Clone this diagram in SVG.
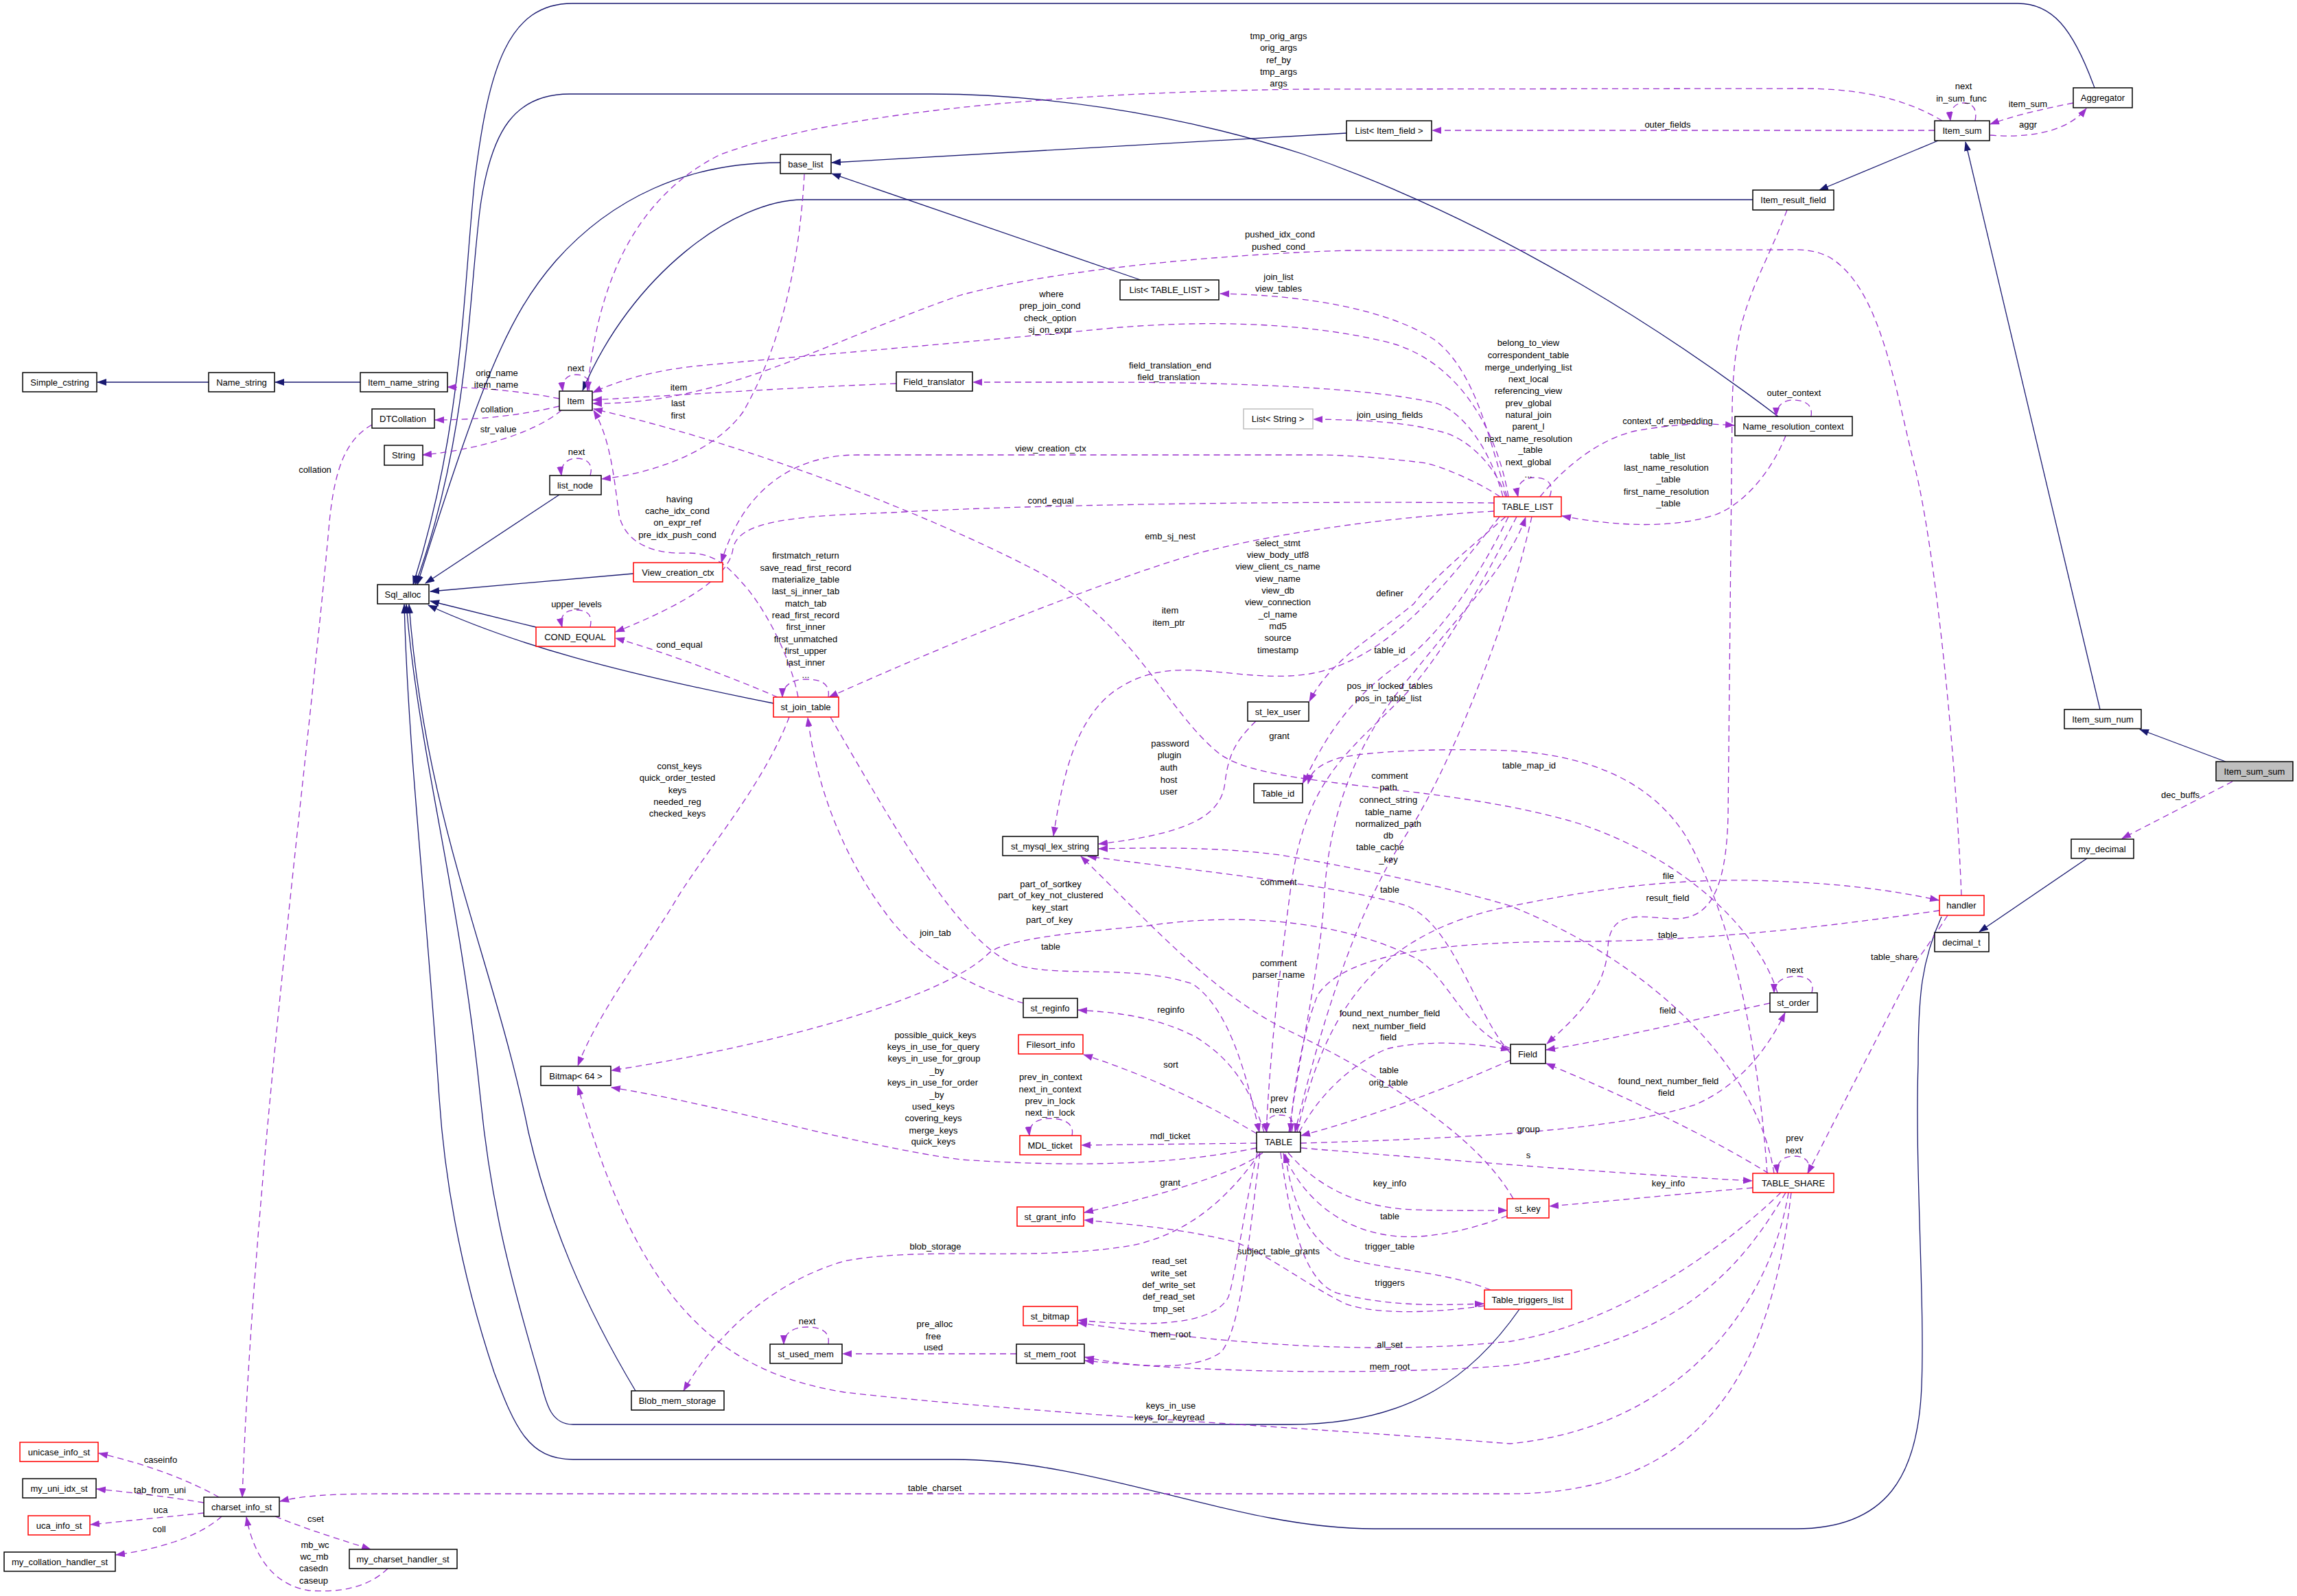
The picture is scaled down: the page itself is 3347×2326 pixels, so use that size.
<svg xmlns="http://www.w3.org/2000/svg" width="3347" height="2326" viewBox="0 0 3347 2326">
<defs>
<marker id="ab" viewBox="0 0 14 10" refX="13" refY="5" markerWidth="14" markerHeight="10" orient="auto" markerUnits="userSpaceOnUse"><path d="M0,0 L14,5 L0,10 z" fill="#191970"/></marker>
<marker id="ap" viewBox="0 0 14 10" refX="13" refY="5" markerWidth="14" markerHeight="10" orient="auto" markerUnits="userSpaceOnUse"><path d="M0,0 L14,5 L0,10 z" fill="#9a32cd"/></marker>
</defs>
<style>
text{font-family:"Liberation Sans",Arial,sans-serif;font-size:13px;fill:#000;text-anchor:middle}
.n rect{fill:#fff;stroke:#000;stroke-width:1.5}
.r rect{stroke:#f00}
.g rect{stroke:#bfbfbf}
.s rect{fill:#bfbfbf}
.i{fill:none;stroke:#191970;stroke-width:1.3;marker-end:url(#ab)}
.u{fill:none;stroke:#9a32cd;stroke-width:1.3;stroke-dasharray:9,6;marker-end:url(#ap)}
</style>
<rect width="3347" height="2326" fill="#fff"/>
<g id="edges">
<!-- inheritance -->
<path class="i" d="M3243,1110 L3118,1063"/>
<path class="i" d="M3060,1034 L2864,207"/>
<path class="i" d="M2824,205 L2651,277"/>
<path class="i" d="M2554,291 L1170,291 C1070,291 920,400 849,569"/>
<path class="i" d="M3052,128 C3020,40 2990,5 2940,5 L834,5 C740,5 712,100 692,260 C675,420 675,620 602,852"/>
<path class="i" d="M2591,607 C2450,500 2200,330 1900,225 C1700,160 1500,137 1357,137 L830,137 C750,137 716,190 700,300 C683,430 683,640 605,852"/>
<path class="i" d="M1137,237 C1000,237 890,290 810,380 C740,460 700,560 608,852"/>
<path class="i" d="M815,721 L620,850"/>
<path class="i" d="M923,836 L627,862"/>
<path class="i" d="M781,914 L627,876"/>
<path class="i" d="M1127,1025 C900,980 750,940 624,882"/>
<path class="i" d="M926,2027 C850,1900 800,1780 770,1650 C720,1400 620,1200 596,881"/>
<path class="i" d="M2214,1908 C2150,2000 2060,2076 1880,2076 L835,2076 C800,2076 795,2040 786,2007 C740,1850 715,1750 700,1600 C670,1300 610,1100 592,881"/>
<path class="i" d="M2829,1336 C2800,1400 2795,1450 2795,1550 C2790,1700 2805,1900 2800,2020 C2795,2150 2750,2228 2617,2228 L2002,2228 C1800,2228 1600,2127 1390,2127 L835,2127 C770,2127 750,2080 720,2000 C680,1880 650,1750 640,1600 C620,1300 595,1100 589,881"/>
<path class="i" d="M525,557 L401,557"/>
<path class="i" d="M304,557 L142,557"/>
<path class="i" d="M1962,194 L1212,237"/>
<path class="i" d="M1662,408 L1212,253"/>
<path class="i" d="M3041,1251 L2884,1358"/>
<!-- usage -->
<path class="u" d="M3253,1139 L3092,1222"/>
<path class="u" d="M2878,176 C2882,156 2872,150 2861,150 C2850,150 2840,158 2842,176"/>
<path class="u" d="M2900,197 C2950,201 3010,195 3040,158"/>
<path class="u" d="M3021,150 C2970,160 2930,170 2900,181"/>
<path class="u" d="M2819,190 L2087,190"/>
<path class="u" d="M2830,176 C2770,140 2700,129 2624,129 L1900,130 C1500,135 1200,170 1050,225 C920,290 870,420 856,569"/>
<path class="u" d="M2858,1305 C2850,1100 2820,800 2790,680 C2760,560 2740,420 2666,375 C2640,362 2620,364 2600,364 L1963,365 C1800,370 1550,390 1400,430 C1200,500 1050,590 864,588"/>
<path class="u" d="M2196,724 C2170,640 2150,540 2090,495 C2020,450 1900,430 1778,428"/>
<path class="u" d="M2190,724 C2170,650 2130,600 2094,588 C2000,565 1800,557 1600,557 L1418,557"/>
<path class="u" d="M2194,724 C2180,680 2140,640 2103,630 C2050,615 1990,612 1914,611"/>
<path class="u" d="M2186,724 C2150,700 2100,680 2078,675 C2000,665 1950,663 1912,663 L1249,663 C1150,663 1080,720 1051,820"/>
<path class="u" d="M2177,733 C1900,730 1500,735 1300,747 C1150,752 1075,760 1068,800 C1063,840 1000,880 897,921"/>
<path class="u" d="M2177,745 C2000,755 1850,780 1746,806 C1600,850 1400,930 1208,1016"/>
<path class="u" d="M2258,724 C2266,703 2252,696 2236,696 C2220,696 2208,706 2212,724"/>
<path class="u" d="M2244,724 C2280,680 2330,640 2383,628 C2440,618 2480,616 2527,620"/>
<path class="u" d="M2602,635 C2580,690 2540,735 2500,750 C2440,770 2360,768 2276,752"/>
<path class="u" d="M2639,607 C2642,590 2630,583 2613,583 C2598,583 2588,592 2588,607"/>
<path class="u" d="M2604,306 C2560,420 2525,450 2524,600 L2518,1190 C2515,1300 2490,1339 2441,1339 C2400,1339 2346,1320 2343,1380 C2340,1440 2300,1480 2254,1521"/>
<path class="u" d="M1890,1650 C1930,1480 2000,1360 2200,1321 C2350,1290 2450,1282 2550,1283 C2680,1286 2760,1298 2825,1312"/>
<path class="u" d="M2826,1327 C2700,1345 2500,1372 2300,1372 C2100,1372 1960,1390 1920,1450 C1900,1500 1885,1580 1880,1650"/>
<path class="u" d="M2838,1334 C2815,1370 2800,1390 2793,1400 L2634,1710"/>
<path class="u" d="M1893,1650 C1930,1580 1990,1540 2023,1528 C2080,1515 2150,1520 2200,1530"/>
<path class="u" d="M2201,1545 C2100,1590 1990,1630 1896,1655"/>
<path class="u" d="M2579,1462 C2450,1490 2350,1515 2253,1530"/>
<path class="u" d="M2577,1710 C2480,1650 2350,1590 2253,1550"/>
<path class="u" d="M1895,1666 C2100,1660 2350,1650 2470,1610 C2540,1580 2580,1520 2601,1476"/>
<path class="u" d="M1896,1673 C2100,1690 2350,1710 2553,1721"/>
<path class="u" d="M2554,1731 C2450,1740 2350,1750 2258,1758"/>
<path class="u" d="M1877,1680 C1920,1730 1980,1760 2060,1763 C2120,1765 2160,1764 2196,1764"/>
<path class="u" d="M2196,1772 C2150,1790 2090,1805 2040,1802 C1960,1797 1900,1750 1870,1681"/>
<path class="u" d="M2634,1710 C2640,1690 2628,1685 2613,1685 C2598,1685 2588,1694 2590,1710"/>
<path class="u" d="M1882,1650 C1888,1630 1878,1625 1864,1625 C1850,1625 1842,1634 1846,1650"/>
<path class="u" d="M2172,1880 C2100,1850 2000,1850 1950,1830 C1900,1800 1880,1740 1873,1682"/>
<path class="u" d="M1866,1680 C1880,1780 1900,1870 1950,1885 C2030,1905 2100,1902 2162,1900"/>
<path class="u" d="M2163,1903 C2080,1915 2000,1915 1960,1900 C1900,1870 1850,1830 1800,1810 C1720,1790 1650,1785 1580,1778"/>
<path class="u" d="M1840,1680 C1800,1710 1700,1740 1580,1767"/>
<path class="u" d="M1832,1680 C1815,1750 1800,1860 1790,1890 C1770,1930 1680,1935 1571,1924"/>
<path class="u" d="M2595,1738 C2500,1830 2350,1930 2200,1955 C2000,1975 1800,1960 1571,1928"/>
<path class="u" d="M1836,1680 C1820,1800 1810,1930 1780,1970 C1740,2000 1650,1992 1581,1978"/>
<path class="u" d="M2602,1738 C2530,1860 2440,1954 2200,1990 C2000,2005 1750,2000 1581,1983"/>
<path class="u" d="M1481,1973 L1228,1973"/>
<path class="u" d="M1207,1959 C1210,1940 1195,1934 1176,1934 C1157,1934 1142,1942 1142,1959"/>
<path class="u" d="M1836,1680 C1780,1760 1720,1800 1650,1815 C1500,1840 1350,1815 1230,1838 C1120,1870 1040,1950 996,2027"/>
<path class="u" d="M2606,1738 C2580,1900 2450,2080 2200,2104 C1900,2080 1500,2060 1230,2029 C1050,2000 930,1900 842,1583"/>
<path class="u" d="M2610,1738 C2580,2000 2480,2177 2200,2177 L560,2177 C480,2177 440,2180 408,2188"/>
<path class="u" d="M319,2182 C280,2160 220,2135 144,2118"/>
<path class="u" d="M297,2190 C250,2182 190,2175 141,2170"/>
<path class="u" d="M297,2205 C250,2210 190,2216 132,2222"/>
<path class="u" d="M323,2210 C290,2240 230,2258 169,2266"/>
<path class="u" d="M401,2210 C450,2230 500,2245 540,2258"/>
<path class="u" d="M565,2286 C530,2320 480,2320 450,2318 C400,2310 370,2270 359,2211"/>
<path class="u" d="M1831,1666 L1576,1669"/>
<path class="u" d="M1562,1655 C1566,1636 1548,1630 1530,1630 C1512,1630 1498,1638 1500,1655"/>
<path class="u" d="M1831,1652 C1760,1610 1680,1570 1579,1537"/>
<path class="u" d="M1842,1650 C1820,1580 1790,1540 1740,1510 C1680,1480 1620,1475 1571,1472"/>
<path class="u" d="M1491,1462 C1420,1440 1340,1400 1290,1330 C1230,1250 1190,1150 1177,1046"/>
<path class="u" d="M1831,1673 C1700,1700 1550,1700 1400,1690 C1250,1670 1050,1610 891,1585"/>
<path class="u" d="M2201,1528 C2130,1500 2110,1420 2060,1395 C1950,1340 1800,1330 1674,1349 C1550,1360 1460,1370 1440,1390 C1380,1450 1150,1520 891,1560"/>
<path class="u" d="M1830,1051 C1800,1080 1790,1100 1785,1140 C1780,1190 1730,1215 1601,1230"/>
<path class="u" d="M2185,753 C2100,860 2010,980 1880,985 C1780,990 1700,950 1620,1010 C1570,1050 1550,1120 1535,1218"/>
<path class="u" d="M2194,753 C2140,800 2090,840 2060,880 C2000,930 1940,960 1908,1022"/>
<path class="u" d="M2198,753 C2150,850 2100,920 2050,960 C1960,1020 1930,1080 1898,1142"/>
<path class="u" d="M2575,1710 C2560,1500 2520,1330 2456,1218 C2400,1130 2300,1100 2200,1094 C2100,1090 1990,1095 1950,1105 C1920,1115 1910,1125 1906,1142"/>
<path class="u" d="M1878,1650 C1900,1500 1925,1400 1930,1300 C1940,1150 2000,1050 2060,980 C2140,880 2200,820 2223,754"/>
<path class="u" d="M2232,753 C2200,900 2120,1100 2060,1200 C1990,1300 1935,1450 1887,1650"/>
<path class="u" d="M2210,753 C2160,850 2100,960 2040,1020 C1960,1100 1900,1140 1880,1300 C1860,1450 1850,1550 1845,1650"/>
<path class="u" d="M2585,1710 C2560,1550 2400,1400 2200,1320 C2100,1290 1950,1260 1865,1246 C1780,1235 1700,1235 1601,1237"/>
<path class="u" d="M2201,1535 C2150,1480 2120,1350 2050,1320 C1950,1290 1750,1270 1585,1248"/>
<path class="u" d="M2205,1747 C2150,1650 2000,1560 1865,1496 C1760,1440 1680,1350 1575,1248"/>
<path class="u" d="M1210,1045 C1300,1200 1400,1380 1483,1407 C1550,1425 1650,1405 1738,1434 C1790,1470 1815,1560 1835,1650"/>
<path class="u" d="M1150,1045 C1110,1150 1020,1250 980,1320 C930,1400 870,1480 842,1553"/>
<path class="u" d="M1133,1016 C1050,980 950,945 897,930"/>
<path class="u" d="M1207,1016 C1210,995 1195,990 1174,990 C1153,990 1140,1000 1140,1016"/>
<path class="u" d="M1163,1016 C1150,950 1110,880 1082,850 C1060,825 1040,805 1000,806 C950,808 910,790 902,750 C895,700 890,640 865,598"/>
<path class="u" d="M2590,1447 C2560,1350 2450,1250 2300,1200 C2100,1140 1850,1150 1779,1100 C1700,1040 1650,900 1497,825 C1350,750 1100,650 865,596"/>
<path class="u" d="M1306,559 C1150,565 1000,575 864,583"/>
<path class="u" d="M2198,724 C2180,620 2120,520 2015,497 C1900,470 1750,465 1600,480 C1400,500 1100,525 1019,533 C950,540 900,555 864,572"/>
<path class="u" d="M1172,254 C1165,380 1140,500 1083,600 C1040,660 950,690 877,698"/>
<path class="u" d="M858,570 C862,552 852,546 839,546 C826,546 818,555 820,570"/>
<path class="u" d="M860,693 C865,676 855,668 840,668 C826,668 816,678 818,693"/>
<path class="u" d="M860,914 C864,895 855,889 839,889 C823,889 815,898 819,914"/>
<path class="u" d="M2640,1447 C2645,1428 2632,1423 2617,1423 C2600,1423 2585,1430 2585,1447"/>
<path class="u" d="M815,581 C760,570 700,565 652,564"/>
<path class="u" d="M815,592 C760,605 700,612 634,612"/>
<path class="u" d="M818,598 C780,630 700,655 616,663"/>
<path class="u" d="M542,619 C505,640 488,680 480,760 C450,1100 370,1700 353,2182"/>
</g>
<g id="labels">
<text x="1863" y="57">tmp_orig_args</text><text x="1863" y="74">orig_args</text><text x="1863" y="92">ref_by</text><text x="1863" y="109">tmp_args</text><text x="1863" y="126">args</text>
<text x="2430" y="186">outer_fields</text>
<text x="2861" y="130">next</text><text x="2858" y="148">in_sum_func</text>
<text x="2955" y="156">item_sum</text><text x="2955" y="186">aggr</text>
<text x="1865" y="346">pushed_idx_cond</text><text x="1863" y="364">pushed_cond</text>
<text x="1863" y="408">join_list</text><text x="1863" y="425">view_tables</text>
<text x="1532" y="433">where</text><text x="1530" y="450">prep_join_cond</text><text x="1530" y="468">check_option</text><text x="1530" y="485">sj_on_expr</text>
<text x="1705" y="537">field_translation_end</text><text x="1703" y="554">field_translation</text>
<text x="989" y="569">item</text><text x="988" y="592">last</text><text x="988" y="610">first</text>
<text x="724" y="548">orig_name</text><text x="723" y="565">item_name</text>
<text x="724" y="601">collation</text><text x="726" y="630">str_value</text>
<text x="839" y="541">next</text><text x="840" y="663">next</text>
<text x="459" y="689">collation</text>
<text x="2025" y="609">join_using_fields</text>
<text x="1531" y="658">view_creation_ctx</text>
<text x="1531" y="734">cond_equal</text>
<text x="1705" y="786">emb_sj_nest</text>
<text x="2227" y="504">belong_to_view</text><text x="2227" y="522">correspondent_table</text><text x="2227" y="540">merge_underlying_list</text><text x="2227" y="557">next_local</text><text x="2227" y="574">referencing_view</text><text x="2227" y="592">prev_global</text><text x="2227" y="609">natural_join</text><text x="2227" y="626">parent_l</text><text x="2227" y="644">next_name_resolution</text><text x="2230" y="660">_table</text><text x="2227" y="678">next_global</text><text x="2227" y="696">...</text>
<text x="2614" y="577">outer_context</text>
<text x="2430" y="618">context_of_embedding</text>
<text x="2430" y="669">table_list</text><text x="2428" y="686">last_name_resolution</text><text x="2431" y="703">_table</text><text x="2428" y="721">first_name_resolution</text><text x="2431" y="738">_table</text>
<text x="990" y="732">having</text><text x="987" y="749">cache_idx_cond</text><text x="987" y="766">on_expr_ref</text><text x="987" y="784">pre_idx_push_cond</text>
<text x="1174" y="814">firstmatch_return</text><text x="1174" y="832">save_read_first_record</text><text x="1174" y="849">materialize_table</text><text x="1174" y="866">last_sj_inner_tab</text><text x="1174" y="884">match_tab</text><text x="1174" y="901">read_first_record</text><text x="1174" y="918">first_inner</text><text x="1174" y="936">first_unmatched</text><text x="1174" y="953">first_upper</text><text x="1174" y="970">last_inner</text><text x="1174" y="988">...</text>
<text x="840" y="885">upper_levels</text>
<text x="990" y="944">cond_equal</text>
<text x="1862" y="796">select_stmt</text><text x="1862" y="813">view_body_utf8</text><text x="1862" y="830">view_client_cs_name</text><text x="1862" y="848">view_name</text><text x="1862" y="865">view_db</text><text x="1862" y="882">view_connection</text><text x="1862" y="900">_cl_name</text><text x="1862" y="917">md5</text><text x="1862" y="934">source</text><text x="1862" y="952">timestamp</text>
<text x="2025" y="869">definer</text>
<text x="1705" y="894">item</text><text x="1703" y="912">item_ptr</text>
<text x="2025" y="952">table_id</text>
<text x="2025" y="1004">pos_in_locked_tables</text><text x="2023" y="1022">pos_in_table_list</text>
<text x="1864" y="1077">grant</text>
<text x="1705" y="1088">password</text><text x="1704" y="1105">plugin</text><text x="1703" y="1123">auth</text><text x="1703" y="1141">host</text><text x="1703" y="1158">user</text>
<text x="990" y="1121">const_keys</text><text x="987" y="1138">quick_order_tested</text><text x="987" y="1156">keys</text><text x="987" y="1173">needed_reg</text><text x="987" y="1190">checked_keys</text>
<text x="2228" y="1120">table_map_id</text>
<text x="3177" y="1163">dec_buffs</text>
<text x="2025" y="1135">comment</text><text x="2023" y="1152">path</text><text x="2023" y="1170">connect_string</text><text x="2023" y="1188">table_name</text><text x="2023" y="1205">normalized_path</text><text x="2023" y="1222">db</text><text x="2011" y="1239">table_cache</text><text x="2023" y="1257">_key</text>
<text x="2431" y="1281">file</text>
<text x="1531" y="1293">part_of_sortkey</text><text x="1531" y="1309">part_of_key_not_clustered</text><text x="1530" y="1327">key_start</text><text x="1529" y="1345">part_of_key</text>
<text x="1863" y="1290">comment</text>
<text x="2025" y="1301">table</text>
<text x="2430" y="1313">result_field</text>
<text x="1363" y="1364">join_tab</text>
<text x="2430" y="1367">table</text>
<text x="1531" y="1384">table</text>
<text x="2760" y="1399">table_share</text>
<text x="1863" y="1408">comment</text><text x="1863" y="1425">parser_name</text>
<text x="2615" y="1418">next</text>
<text x="1706" y="1476">reginfo</text>
<text x="2430" y="1477">field</text>
<text x="2025" y="1481">found_next_number_field</text><text x="2024" y="1500">next_number_field</text><text x="2023" y="1516">field</text>
<text x="1363" y="1513">possible_quick_keys</text><text x="1360" y="1530">keys_in_use_for_query</text><text x="1361" y="1547">keys_in_use_for_group</text><text x="1365" y="1565">_by</text><text x="1359" y="1582">keys_in_use_for_order</text><text x="1365" y="1600">_by</text><text x="1360" y="1617">used_keys</text><text x="1360" y="1634">covering_keys</text><text x="1360" y="1652">merge_keys</text><text x="1360" y="1668">quick_keys</text>
<text x="1706" y="1556">sort</text>
<text x="2024" y="1564">table</text><text x="2023" y="1582">orig_table</text>
<text x="2431" y="1580">found_next_number_field</text><text x="2428" y="1597">field</text>
<text x="1531" y="1574">prev_in_context</text><text x="1530" y="1592">next_in_context</text><text x="1530" y="1609">prev_in_lock</text><text x="1530" y="1626">next_in_lock</text>
<text x="1864" y="1605">prev</text><text x="1862" y="1622">next</text>
<text x="2227" y="1650">group</text>
<text x="1705" y="1660">mdl_ticket</text>
<text x="2615" y="1663">prev</text><text x="2613" y="1681">next</text>
<text x="2227" y="1688">s</text>
<text x="1705" y="1728">grant</text>
<text x="2025" y="1729">key_info</text>
<text x="2431" y="1729">key_info</text>
<text x="2025" y="1777">table</text>
<text x="2025" y="1821">trigger_table</text>
<text x="1363" y="1821">blob_storage</text>
<text x="1863" y="1828">subject_table_grants</text>
<text x="1704" y="1842">read_set</text><text x="1703" y="1860">write_set</text><text x="1703" y="1877">def_write_set</text><text x="1703" y="1894">def_read_set</text><text x="1703" y="1912">tmp_set</text>
<text x="2025" y="1874">triggers</text>
<text x="1176" y="1930">next</text>
<text x="1362" y="1934">pre_alloc</text><text x="1360" y="1952">free</text><text x="1360" y="1968">used</text>
<text x="1706" y="1949">mem_root</text>
<text x="2025" y="1964">all_set</text>
<text x="2025" y="1996">mem_root</text>
<text x="1706" y="2053">keys_in_use</text><text x="1704" y="2070">keys_for_keyread</text>
<text x="1362" y="2173">table_charset</text>
<text x="234" y="2132">caseinfo</text>
<text x="233" y="2176">tab_from_uni</text>
<text x="234" y="2205">uca</text>
<text x="232" y="2233">coll</text>
<text x="460" y="2218">cset</text>
<text x="459" y="2256">mb_wc</text><text x="458" y="2273">wc_mb</text><text x="457" y="2290">casedn</text><text x="457" y="2308">caseup</text>
</g>
<g id="n_Simple_cstring" class="n"><rect x="33" y="543" width="108" height="28"/><text x="87" y="562">Simple_cstring</text></g>
<g id="n_Name_string" class="n"><rect x="304" y="543" width="96" height="28"/><text x="352" y="562">Name_string</text></g>
<g id="n_Item_name_string" class="n"><rect x="525" y="543" width="127" height="28"/><text x="588" y="562">Item_name_string</text></g>
<g id="n_Item" class="n"><rect x="815" y="570" width="48" height="28"/><text x="839" y="589">Item</text></g>
<g id="n_DTCollation" class="n"><rect x="542" y="596" width="91" height="28"/><text x="587" y="615">DTCollation</text></g>
<g id="n_String" class="n"><rect x="560" y="649" width="56" height="29"/><text x="588" y="668">String</text></g>
<g id="n_list_node" class="n"><rect x="801" y="693" width="75" height="28"/><text x="838" y="712">list_node</text></g>
<g id="n_Sql_alloc" class="n"><rect x="550" y="852" width="75" height="28"/><text x="587" y="871">Sql_alloc</text></g>
<g id="n_COND_EQUAL" class="n r"><rect x="781" y="914" width="115" height="28"/><text x="838" y="933">COND_EQUAL</text></g>
<g id="n_View_creation_ctx" class="n r"><rect x="923" y="820" width="130" height="28"/><text x="988" y="839">View_creation_ctx</text></g>
<g id="n_st_join_table" class="n r"><rect x="1127" y="1016" width="95" height="29"/><text x="1174" y="1035">st_join_table</text></g>
<g id="n_base_list" class="n"><rect x="1137" y="225" width="74" height="28"/><text x="1174" y="244">base_list</text></g>
<g id="n_Field_translator" class="n"><rect x="1306" y="542" width="111" height="28"/><text x="1361" y="561">Field_translator</text></g>
<g id="n_List_TABLE_LIST" class="n"><rect x="1632" y="408" width="144" height="29"/><text x="1704" y="427">List&lt; TABLE_LIST &gt;</text></g>
<g id="n_List_Item_field" class="n"><rect x="1962" y="176" width="124" height="29"/><text x="2024" y="195">List&lt; Item_field &gt;</text></g>
<g id="n_Item_sum" class="n"><rect x="2819" y="176" width="80" height="29"/><text x="2859" y="195">Item_sum</text></g>
<g id="n_Aggregator" class="n"><rect x="3021" y="128" width="86" height="29"/><text x="3064" y="147">Aggregator</text></g>
<g id="n_Item_result_field" class="n"><rect x="2554" y="277" width="118" height="29"/><text x="2613" y="296">Item_result_field</text></g>
<g id="n_List_String" class="n g"><rect x="1812" y="596" width="101" height="29"/><text x="1862" y="615">List&lt; String &gt;</text></g>
<g id="n_TABLE_LIST" class="n r"><rect x="2177" y="724" width="98" height="29"/><text x="2226" y="743">TABLE_LIST</text></g>
<g id="n_st_lex_user" class="n"><rect x="1818" y="1023" width="89" height="28"/><text x="1862" y="1042">st_lex_user</text></g>
<g id="n_Name_resolution_context" class="n"><rect x="2528" y="607" width="171" height="28"/><text x="2613" y="626">Name_resolution_context</text></g>
<g id="n_Item_sum_num" class="n"><rect x="3008" y="1034" width="112" height="28"/><text x="3064" y="1053">Item_sum_num</text></g>
<g id="n_Item_sum_sum" class="n s"><rect x="3229" y="1110" width="112" height="28"/><text x="3285" y="1129">Item_sum_sum</text></g>
<g id="n_my_decimal" class="n"><rect x="3018" y="1223" width="91" height="28"/><text x="3063" y="1242">my_decimal</text></g>
<g id="n_handler" class="n r"><rect x="2826" y="1305" width="65" height="29"/><text x="2858" y="1324">handler</text></g>
<g id="n_decimal_t" class="n"><rect x="2819" y="1359" width="79" height="28"/><text x="2858" y="1378">decimal_t</text></g>
<g id="n_Table_id" class="n"><rect x="1827" y="1142" width="71" height="28"/><text x="1862" y="1161">Table_id</text></g>
<g id="n_st_mysql_lex_string" class="n"><rect x="1461" y="1219" width="139" height="28"/><text x="1530" y="1238">st_mysql_lex_string</text></g>
<g id="n_st_reginfo" class="n"><rect x="1491" y="1455" width="79" height="28"/><text x="1530" y="1474">st_reginfo</text></g>
<g id="n_Filesort_info" class="n r"><rect x="1484" y="1508" width="94" height="28"/><text x="1531" y="1527">Filesort_info</text></g>
<g id="n_MDL_ticket" class="n r"><rect x="1486" y="1655" width="89" height="28"/><text x="1530" y="1674">MDL_ticket</text></g>
<g id="n_TABLE" class="n"><rect x="1831" y="1650" width="64" height="29"/><text x="1863" y="1669">TABLE</text></g>
<g id="n_Field" class="n"><rect x="2201" y="1522" width="51" height="28"/><text x="2226" y="1541">Field</text></g>
<g id="n_st_order" class="n"><rect x="2579" y="1447" width="69" height="28"/><text x="2613" y="1466">st_order</text></g>
<g id="n_TABLE_SHARE" class="n r"><rect x="2554" y="1710" width="118" height="28"/><text x="2613" y="1729">TABLE_SHARE</text></g>
<g id="n_st_key" class="n r"><rect x="2196" y="1747" width="61" height="28"/><text x="2226" y="1766">st_key</text></g>
<g id="n_Table_triggers_list" class="n r"><rect x="2163" y="1880" width="127" height="28"/><text x="2226" y="1899">Table_triggers_list</text></g>
<g id="n_st_grant_info" class="n r"><rect x="1482" y="1759" width="97" height="28"/><text x="1530" y="1778">st_grant_info</text></g>
<g id="n_st_bitmap" class="n r"><rect x="1491" y="1904" width="79" height="28"/><text x="1530" y="1923">st_bitmap</text></g>
<g id="n_st_used_mem" class="n"><rect x="1122" y="1959" width="105" height="28"/><text x="1174" y="1978">st_used_mem</text></g>
<g id="n_st_mem_root" class="n"><rect x="1481" y="1959" width="99" height="28"/><text x="1530" y="1978">st_mem_root</text></g>
<g id="n_Blob_mem_storage" class="n"><rect x="920" y="2027" width="135" height="28"/><text x="987" y="2046">Blob_mem_storage</text></g>
<g id="n_Bitmap_64" class="n"><rect x="788" y="1554" width="102" height="28"/><text x="839" y="1573">Bitmap&lt; 64 &gt;</text></g>
<g id="n_unicase_info_st" class="n r"><rect x="29" y="2102" width="114" height="28"/><text x="86" y="2121">unicase_info_st</text></g>
<g id="n_my_uni_idx_st" class="n"><rect x="33" y="2155" width="107" height="28"/><text x="86" y="2174">my_uni_idx_st</text></g>
<g id="n_charset_info_st" class="n"><rect x="297" y="2182" width="110" height="28"/><text x="352" y="2201">charset_info_st</text></g>
<g id="n_uca_info_st" class="n r"><rect x="41" y="2209" width="90" height="28"/><text x="86" y="2228">uca_info_st</text></g>
<g id="n_my_collation_handler_st" class="n"><rect x="6" y="2262" width="162" height="28"/><text x="87" y="2281">my_collation_handler_st</text></g>
<g id="n_my_charset_handler_st" class="n"><rect x="509" y="2258" width="157" height="28"/><text x="587" y="2277">my_charset_handler_st</text></g>
</svg>
